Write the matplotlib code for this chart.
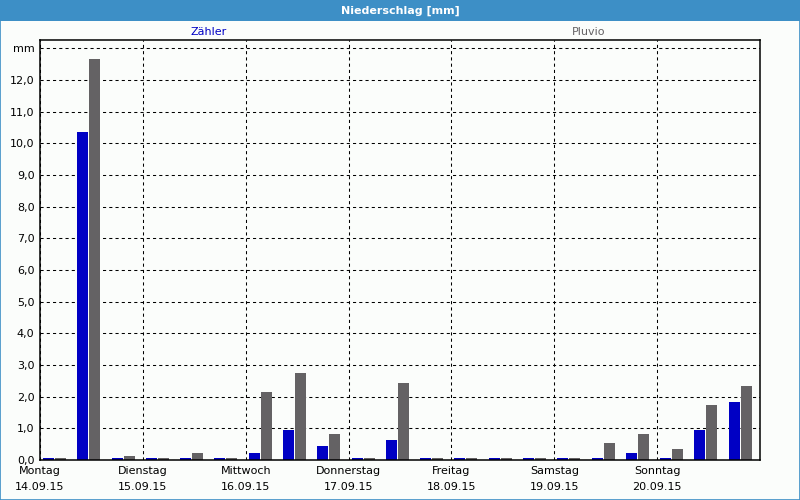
import numpy as np
import matplotlib
matplotlib.use("Agg")
import matplotlib.pyplot as plt
from matplotlib.patches import Rectangle

# Precipitation in 8-hour slots, Monday 14.09.15 to Sunday 20.09.15
days = ["Montag", "Dienstag", "Mittwoch", "Donnerstag", "Freitag", "Samstag", "Sonntag"]
dates = ["14.09.15", "15.09.15", "16.09.15", "17.09.15", "18.09.15", "19.09.15", "20.09.15"]
zaehler = [0.07, 10.36, 0.07, 0.07, 0.07, 0.07, 0.23, 0.95, 0.44, 0.07, 0.63,
           0.07, 0.07, 0.07, 0.07, 0.07, 0.07, 0.23, 0.07, 0.95, 1.83]
pluvio = [0.07, 12.66, 0.13, 0.07, 0.23, 0.07, 2.15, 2.75, 0.82, 0.07, 2.43,
          0.07, 0.07, 0.07, 0.07, 0.07, 0.55, 0.82, 0.35, 1.74, 2.34]
series_names = ["Zähler", "Pluvio"]

BLUE = "#0000c4"
GRAY = "#646264"
FRAME = "#3d8fc6"
BG = "#fbfdfb"

slot_hours = 8
bar_w = 2.57
slot_start = np.arange(len(zaehler)) * slot_hours

fig = plt.figure(figsize=(8, 5), dpi=100, facecolor=BG)
ax = fig.add_axes([0.05, 0.08, 0.90, 0.84])
ax.set_facecolor(BG)

ax.bar(slot_start + 0.7, zaehler, width=bar_w, align="edge", color=BLUE, linewidth=0)
ax.bar(slot_start + 0.7 + bar_w + 0.23, pluvio, width=bar_w, align="edge", color=GRAY, linewidth=0)

ax.set_xlim(0, 168)
ax.set_ylim(0, 13.26)

# y axis: "0,0" ... "12,0", top line labelled with the unit
yticks = np.arange(0, 14)
ylabels = [f"{v},0" for v in yticks[:-1]] + ["mm"]
ax.set_yticks(yticks)
ax.set_yticklabels(ylabels, fontsize=8)

ax.set_xticks(np.arange(0, 168, 24))
ax.set_xticklabels([f"{d}\n{t}" for d, t in zip(days, dates)], fontsize=8, linespacing=1.85)
ax.tick_params(axis="both", length=0)
ax.tick_params(axis="y", pad=4)
ax.tick_params(axis="x", pad=4)

ax.set_axisbelow(True)
ax.grid(True, color="black", linestyle=(0, (3, 3)), linewidth=0.75)
for s in ax.spines.values():
    s.set_color("black")
    s.set_linewidth(1.1)

# legend as coloured text above the plot
fig.text(209 / 800, 1 - 32 / 500, series_names[0], color=BLUE, fontsize=8, ha="center", va="center")
fig.text(589 / 800, 1 - 32 / 500, series_names[1], color=GRAY, fontsize=8, ha="center", va="center")

# title bar and outer frame
fig.patches.append(Rectangle((0, 1 - 20.5 / 500), 1, 20.5 / 500, transform=fig.transFigure,
                             facecolor=FRAME, edgecolor="none", zorder=0))
fig.patches.append(Rectangle((0.0006, 0.001), 0.9988, 0.998, transform=fig.transFigure,
                             facecolor="none", edgecolor=FRAME, linewidth=1.2, zorder=1))
fig.text(0.5, 1 - 10.5 / 500, "Niederschlag [mm]", color="white", fontsize=8,
         fontweight="bold", ha="center", va="center")

fig.savefig("out.png", dpi=100, facecolor=BG)
